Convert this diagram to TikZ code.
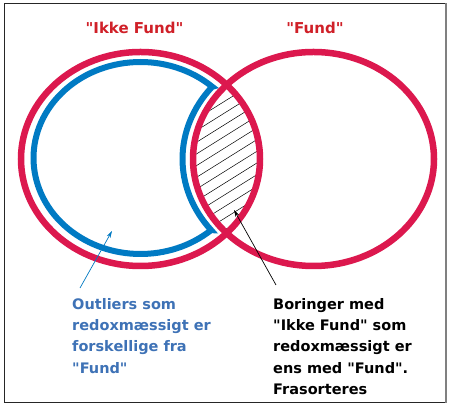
\documentclass[tikz,border=0pt]{standalone}
\usepackage{fontspec}
\newfontfamily\dvs{DejaVu Sans}
\usetikzlibrary{arrows.meta}
\definecolor{ringred}{RGB}{220,24,78}
\definecolor{titlered}{RGB}{208,32,40}
\definecolor{ringblue}{RGB}{0,122,195}
\definecolor{textblue}{RGB}{62,114,182}
\begin{document}
\begin{tikzpicture}[x=1pt,y=1pt,
  ring/.style={ringred, line width=6.5pt},
  titletext/.style={titlered, font=\dvs\fontsize{15}{18}\selectfont\bfseries, inner sep=0pt},
  bodytext/.style={font=\dvs\fontsize{14.5}{21.3}\selectfont\bfseries, align=left, inner sep=0pt},
  hatchline/.style={black, line width=0.5pt},
  pointer/.style={line width=0.7pt, -{Stealth[length=7pt,width=4pt]}}]
\useasboundingbox (0,0) rectangle (449,406);
\fill[white] (0,0) rectangle (449,406);
% frame
\draw[black!85, line width=0.9pt] (4.3,3.3) rectangle (446,402.7);
\draw[gray, line width=2pt] (446,3.3) -- (446,402.7);
% hatching of the overlap
\begin{scope}
  \clip (140.5,247) ellipse [x radius=119.5pt, y radius=107pt];
  \clip (313.5,247) ellipse [x radius=120.5pt, y radius=107pt];
  \foreach \c in {60,71.7,...,340} \draw[hatchline] (170,\c) -- ++(32:130pt);
\end{scope}
% blue outline
\draw[ringblue, line width=6pt, line join=miter, miter limit=20]
  ([shift={(140.5,248)}]47.9:107pt and 96pt)
  arc[start angle=47.9, end angle=311.3, x radius=107pt, y radius=96pt]
  -- ([shift={(313.5,247)}]218.6:131pt and 114pt)
  arc[start angle=218.6, end angle=140.7, x radius=131pt, y radius=114pt]
  -- cycle;
% red rings
\draw[ring] (140.5,247) ellipse [x radius=119.5pt, y radius=107pt];
\draw[ring] (313.5,247) ellipse [x radius=120.5pt, y radius=107pt];
% titles
\node[titletext, anchor=base] (tl) at (134.5,372) {"Ikke Fund"};
\node[titletext, anchor=base] (tr) at (315,372) {"Fund"};
% texts
\node[bodytext, textblue, anchor=north west] (outl) at (72,108)
  {Outliers som\\redoxmæssigt er\\forskellige fra\\"Fund"};
\node[bodytext, black, anchor=north west] (bor) at (273,108)
  {Boringer med\\"Ikke Fund" som\\redoxmæssigt er\\ens med "Fund".\\Frasorteres};
% arrows
\coordinate (bt) at (80,118);
\coordinate (bh) at (112,175);
\draw[pointer, ringblue] (bt) -- (bh);
\coordinate (kt) at (276,121);
\coordinate (kh) at (234,196);
\draw[pointer, black] (kt) -- (kh);
\end{tikzpicture}
\end{document}
